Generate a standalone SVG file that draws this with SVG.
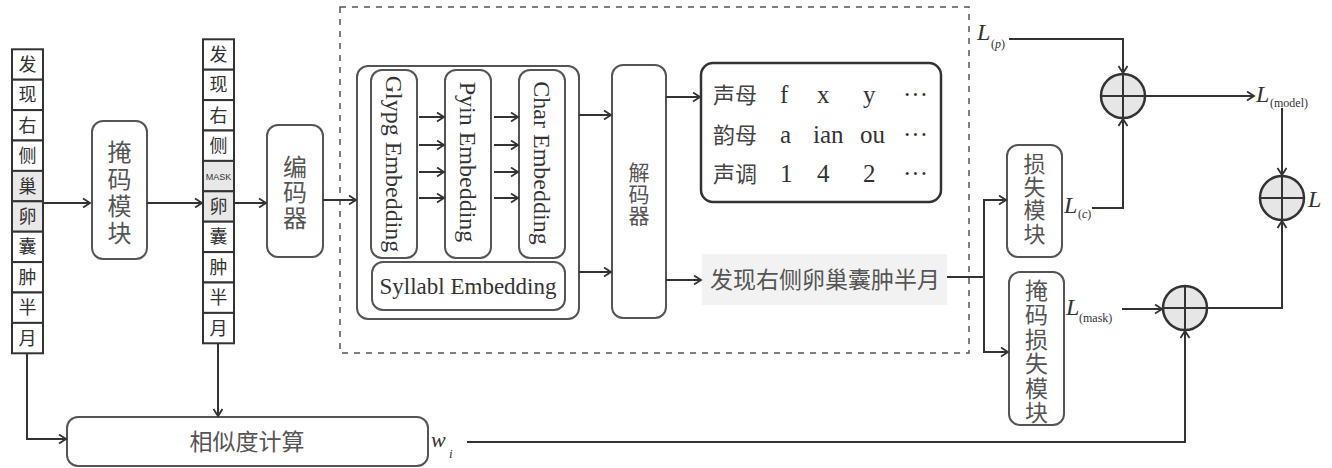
<svg xmlns="http://www.w3.org/2000/svg" width="1332" height="468" viewBox="0 0 1332 468">
<defs>
<style>
.box{fill:#fff;stroke:#555;stroke-width:2}
.cell{fill:#fff;stroke:#333;stroke-width:2}
.cellg{fill:#e8e8e8;stroke:#333;stroke-width:2}
.ln{fill:none;stroke:#333;stroke-width:2}
.cjk{font-family:"Noto Sans CJK SC",sans-serif;fill:#555;text-anchor:middle}
.vt{font-family:"Noto Sans CJK SC",sans-serif;fill:#555;text-anchor:middle;writing-mode:vertical-rl;text-orientation:upright}
.cc{font-family:"Noto Sans CJK SC",sans-serif;fill:#333;font-size:18px;text-anchor:middle}
.ser{font-family:"Liberation Serif",serif;fill:#333}
.it{font-family:"Liberation Serif",serif;font-style:italic;fill:#333}
.circ{fill:#e6e6e6;stroke:#333;stroke-width:2.5}
</style>
<marker id="ah" markerWidth="12" markerHeight="12" refX="8" refY="5" orient="auto" markerUnits="userSpaceOnUse">
<path d="M1,0.5 L8,5 L1,9.5" fill="none" stroke="#333" stroke-width="1.8"/>
</marker>
</defs>
<rect width="1332" height="468" fill="#fff"/>

<!-- dashed frame -->
<rect x="340" y="7" width="629" height="346" fill="none" stroke="#555" stroke-width="1.5" stroke-dasharray="6,6"/>

<!-- input column -->
<g id="input-seq">
<rect class="cell" x="12" y="49.3" width="31" height="30.4"/><text class="cc" x="27.5" y="71">发</text>
<rect class="cell" x="12" y="79.7" width="31" height="30.4"/><text class="cc" x="27.5" y="101.4">现</text>
<rect class="cell" x="12" y="110.1" width="31" height="30.4"/><text class="cc" x="27.5" y="131.8">右</text>
<rect class="cell" x="12" y="140.5" width="31" height="30.4"/><text class="cc" x="27.5" y="162.2">侧</text>
<rect class="cellg" x="12" y="170.9" width="31" height="30.4"/><text class="cc" x="27.5" y="192.6">巢</text>
<rect class="cellg" x="12" y="201.3" width="31" height="30.4"/><text class="cc" x="27.5" y="223">卵</text>
<rect class="cell" x="12" y="231.7" width="31" height="30.4"/><text class="cc" x="27.5" y="253.4">囊</text>
<rect class="cell" x="12" y="262.1" width="31" height="30.4"/><text class="cc" x="27.5" y="283.8">肿</text>
<rect class="cell" x="12" y="292.5" width="31" height="30.4"/><text class="cc" x="27.5" y="314.2">半</text>
<rect class="cell" x="12" y="322.9" width="31" height="30.4"/><text class="cc" x="27.5" y="344.6">月</text>
</g>

<g id="mask-module">
<rect class="box" x="92" y="121" width="55" height="138" rx="11"/>
<text class="vt" font-size="24" letter-spacing="3" x="119.5" y="193.5">掩码模块</text>
</g>

<g id="masked-seq">
<rect class="cell" x="203" y="39.3" width="31" height="30.4"/><text class="cc" x="218.5" y="61">发</text>
<rect class="cell" x="203" y="69.7" width="31" height="30.4"/><text class="cc" x="218.5" y="91.4">现</text>
<rect class="cell" x="203" y="100.1" width="31" height="30.4"/><text class="cc" x="218.5" y="121.8">右</text>
<rect class="cell" x="203" y="130.5" width="31" height="30.4"/><text class="cc" x="218.5" y="152.2">侧</text>
<rect class="cellg" x="203" y="160.9" width="31" height="30.4"/><text x="218.5" y="179.5" font-family="Liberation Sans,Arial,sans-serif" font-size="9" fill="#333" text-anchor="middle">MASK</text>
<rect class="cellg" x="203" y="191.3" width="31" height="30.4"/><text class="cc" x="218.5" y="213">卵</text>
<rect class="cell" x="203" y="221.7" width="31" height="30.4"/><text class="cc" x="218.5" y="243.4">囊</text>
<rect class="cell" x="203" y="252.1" width="31" height="30.4"/><text class="cc" x="218.5" y="273.8">肿</text>
<rect class="cell" x="203" y="282.5" width="31" height="30.4"/><text class="cc" x="218.5" y="304.2">半</text>
<rect class="cell" x="203" y="312.9" width="31" height="30.4"/><text class="cc" x="218.5" y="334.6">月</text>
</g>

<g id="encoder">
<rect class="box" x="267" y="125" width="56" height="132" rx="11"/>
<text class="vt" font-size="24" letter-spacing="1.5" x="295" y="193">编码器</text>
</g>

<g id="embedding">
<rect class="box" x="357" y="66" width="222" height="253" rx="11"/>
<rect class="box" x="371" y="70" width="46" height="188" rx="11"/>
<text class="ser" font-size="24" text-anchor="middle" transform="translate(386,164) rotate(90)">Glypg Embedding</text>
<rect class="box" x="445" y="70" width="46" height="188" rx="11"/>
<text class="ser" font-size="24" text-anchor="middle" transform="translate(460,162) rotate(90)">Pyin Embedding</text>
<rect class="box" x="519" y="70" width="46" height="188" rx="11"/>
<text class="ser" font-size="24" text-anchor="middle" transform="translate(534,163) rotate(90)">Char Embedding</text>
<rect class="box" x="372" y="262" width="193" height="48" rx="11"/>
<text class="ser" font-size="23" text-anchor="middle" x="468" y="294">Syllabl Embedding</text>
</g>

<g id="decoder">
<rect class="box" x="612" y="65" width="54" height="253" rx="11"/>
<text class="vt" font-size="21" letter-spacing="0.5" x="639" y="194">解码器</text>
</g>

<g id="pinyin-table">
<rect x="701" y="63" width="240" height="139" rx="12" fill="#fff" stroke="#333" stroke-width="2.5"/>
<g class="ser" font-size="25">
<text x="713" y="103" font-family="Noto Sans CJK SC,sans-serif" font-size="22" fill="#444">声母</text>
<text x="780" y="103">f</text><text x="817" y="103">x</text><text x="863" y="103">y</text><text x="903" y="103">···</text>
<text x="713" y="143" font-family="Noto Sans CJK SC,sans-serif" font-size="22" fill="#444">韵母</text>
<text x="780" y="143">a</text><text x="813" y="143">ian</text><text x="860" y="143">ou</text><text x="903" y="143">···</text>
<text x="713" y="182" font-family="Noto Sans CJK SC,sans-serif" font-size="22" fill="#444">声调</text>
<text x="780" y="182">1</text><text x="817" y="182">4</text><text x="863" y="182">2</text><text x="903" y="182">···</text>
</g>
</g>

<g id="output-text">
<rect x="702" y="254" width="245" height="51" fill="#f2f2f2"/>
<text x="710" y="288" font-family="Noto Sans CJK SC,sans-serif" font-size="23" fill="#555">发现右侧卵巢囊肿半月</text>
</g>

<g id="loss-module">
<rect class="box" x="1007" y="145" width="55" height="112" rx="11"/>
<text class="vt" font-size="22" letter-spacing="1.3" x="1034.5" y="199">损失模块</text>
</g>

<g id="mask-loss-module">
<rect class="box" x="1009" y="272" width="55" height="153" rx="11"/>
<text class="vt" font-size="23" letter-spacing="1.4" x="1036.5" y="352">掩码损失模块</text>
</g>

<g id="similarity">
<rect class="box" x="67" y="417" width="361" height="49" rx="11"/>
<text class="cjk" font-size="23" x="247" y="450">相似度计算</text>
</g>

<g id="sum1"><circle class="circ" cx="1123" cy="96" r="22"/><path class="ln" d="M1101,96 H1145 M1123,74 V118"/></g>
<g id="sum2"><circle class="circ" cx="1282" cy="198" r="22"/><path class="ln" d="M1260,198 H1304 M1282,176 V220"/></g>
<g id="sum3"><circle class="circ" cx="1185" cy="308" r="22"/><path class="ln" d="M1163,308 H1207 M1185,286 V330"/></g>

<g id="labels">
<text class="it" font-size="24" x="977" y="40">L</text><text class="ser" font-size="12" x="991" y="48">(<tspan font-style="italic">p</tspan>)</text>
<text class="it" font-size="24" x="1256" y="102">L</text><text class="ser" font-size="12" x="1270" y="107">(model)</text>
<text class="it" font-size="24" x="1064" y="213">L</text><text class="ser" font-size="12" x="1078" y="218">(<tspan font-style="italic">c</tspan>)</text>
<text class="it" font-size="24" x="1066" y="315">L</text><text class="ser" font-size="12" x="1079" y="322">(mask)</text>
<text class="it" font-size="24" x="1308" y="207">L</text>
<text class="it" font-size="22" x="431" y="447">w</text><text class="it" font-size="13" x="449" y="458">i</text>
</g>

<g id="connectors" class="ln" marker-end="url(#ah)">
<path d="M43,203 H90"/>
<path d="M147,203 H202"/>
<path d="M234,203 H266"/>
<path d="M323,200 H356"/>
<path d="M419,117 H444"/><path d="M419,145 H444"/><path d="M419,172 H444"/><path d="M419,198 H444"/>
<path d="M494,117 H518"/><path d="M494,145 H518"/><path d="M494,172 H518"/><path d="M494,198 H518"/>
<path d="M579,115 H611"/>
<path d="M579,272 H611"/>
<path d="M666,97 H700"/>
<path d="M666,280 H701"/>
<path d="M947,277 H984" marker-end="none"/>
<path d="M984,277 V200 H1006"/>
<path d="M984,277 V352 H1008"/>
<path d="M1009,39 H1123 V73"/>
<path d="M1145,96 H1254"/>
<path d="M1282,108 V175"/>
<path d="M1092,208 H1123 V119"/>
<path d="M1122,309 H1162"/>
<path d="M1207,308 H1282 V221"/>
<path d="M467,442 H1185 V331"/>
<path d="M27,353 V439 H66"/>
<path d="M218,343 V416"/>
</g>
</svg>
